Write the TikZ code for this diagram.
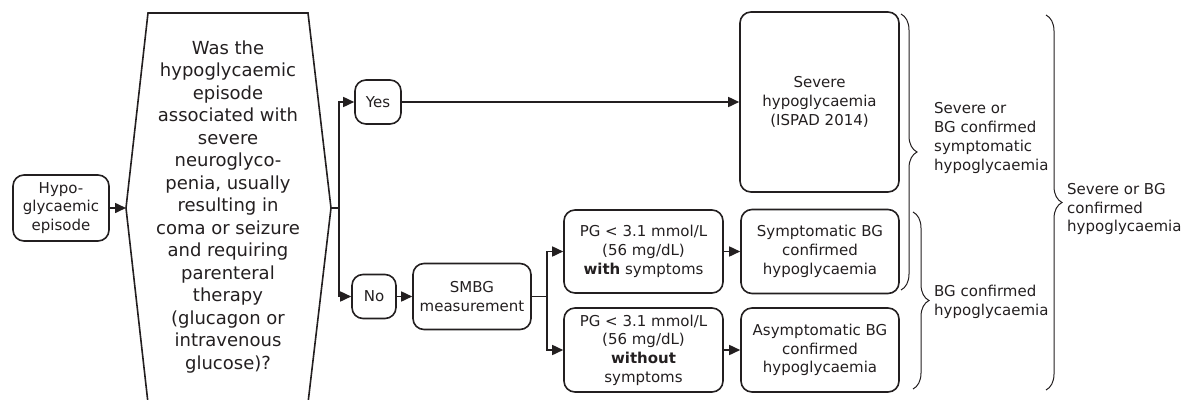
\documentclass[tikz,border=0pt]{standalone}
\usepackage{fontspec}
\setmainfont{DejaVu Sans}
\usetikzlibrary{arrows.meta,decorations.pathreplacing}
\definecolor{ink}{HTML}{231F20}
\begin{document}
\begin{tikzpicture}[x=1pt,y=-1pt,
  every node/.style={text=ink},
  box/.style={draw=ink, line width=1.6pt, rounded corners=11pt, inner sep=0pt, align=center,
    font=\fontsize{15}{18.7}\selectfont},
  arr/.style={draw=ink, line width=1.6pt, -{Triangle[length=11pt,width=10pt]}},
  ln/.style={draw=ink, line width=1.6pt},
  brc/.style={draw=ink, line width=1pt, decorate, decoration={brace, amplitude=16pt, aspect=0.5}},
  lbl/.style={align=left, anchor=west, inner sep=0pt, font=\fontsize{15}{18.7}\selectfont}]
\useasboundingbox (0,0) rectangle (1183,399);
% nodes
\node[box, minimum width=96pt, minimum height=66pt] (hypo) at (61,208) {Hypo-\\glycaemic\\episode};
\coordinate (hexL) at (126,208);
\coordinate (hexR) at (331,208);
\draw[ln, line join=miter] (148,13) -- (308,13) -- (hexR) -- (308,403) -- (148,403) -- (hexL) -- cycle;
\node[align=center, inner sep=0pt, font=\fontsize{18}{22.5}\selectfont] (q) at (228,207)
  {Was the\\hypoglycaemic\\episode\\associated with\\severe\\neuroglyco-\\penia, usually\\resulting in\\coma or seizure\\and requiring\\parenteral\\therapy\\(glucagon or\\intravenous\\glucose)?};
\node[box, minimum width=46pt, minimum height=44pt] (yes) at (378,102) {Yes};
\node[box, minimum width=44pt, minimum height=44pt] (no) at (374,296.5) {No};
\node[box, minimum width=118pt, minimum height=66pt] (smbg) at (472,296.5) {SMBG\\measurement};
\node[box, minimum width=159pt, minimum height=83pt] (pg1) at (643.5,251.5) {PG < 3.1 mmol/L\\(56 mg/dL)\\\textbf{with} symptoms};
\node[box, minimum width=159pt, minimum height=84pt] (pg2) at (643.5,350) {PG < 3.1 mmol/L\\(56 mg/dL)\\\textbf{without}\\symptoms};
\node[box, minimum width=159pt, minimum height=180pt] (severe) at (819.5,102) {Severe\\hypoglycaemia\\(ISPAD 2014)};
\node[box, minimum width=158pt, minimum height=84pt] (symp) at (820,251.5) {Symptomatic BG\\confirmed\\hypoglycaemia};
\node[box, minimum width=158pt, minimum height=84pt] (asym) at (820,350) {Asymptomatic BG\\confirmed\\hypoglycaemia};
% connectors
\coordinate (s1) at (339,208);
\coordinate (s2) at (547,296.5);
\draw[arr] (hypo) -- (hexL);
\draw[ln] (hexR) -- (s1);
\draw[arr] (s1) |- (yes);
\draw[arr] (s1) |- (no);
\draw[arr] (yes) -- (severe);
\draw[arr] (no) -- (smbg);
\draw[ln] (smbg) -- (s2);
\draw[arr] (s2) |- (pg1);
\draw[arr] (s2) |- (pg2);
\draw[arr] (pg1) -- (symp);
\draw[arr] (pg2) -- (asym);
% braces
\coordinate (b1a) at (901,14);  \coordinate (b1b) at (901,290);
\coordinate (b2a) at (913,212); \coordinate (b2b) at (913,389);
\coordinate (b3a) at (1046,15); \coordinate (b3b) at (1046,390);
\draw[brc] (b1a) -- (b1b);
\draw[brc] (b2a) -- (b2b);
\draw[brc] (b3a) -- (b3b);
\node[lbl] (l1) at (934,138) {Severe or\\BG confirmed\\symptomatic\\hypoglycaemia};
\node[lbl] (l2) at (934,302) {BG confirmed\\hypoglycaemia};
\node[lbl] (l3) at (1067,209) {Severe or BG\\confirmed\\hypoglycaemia};
\end{tikzpicture}
\end{document}
